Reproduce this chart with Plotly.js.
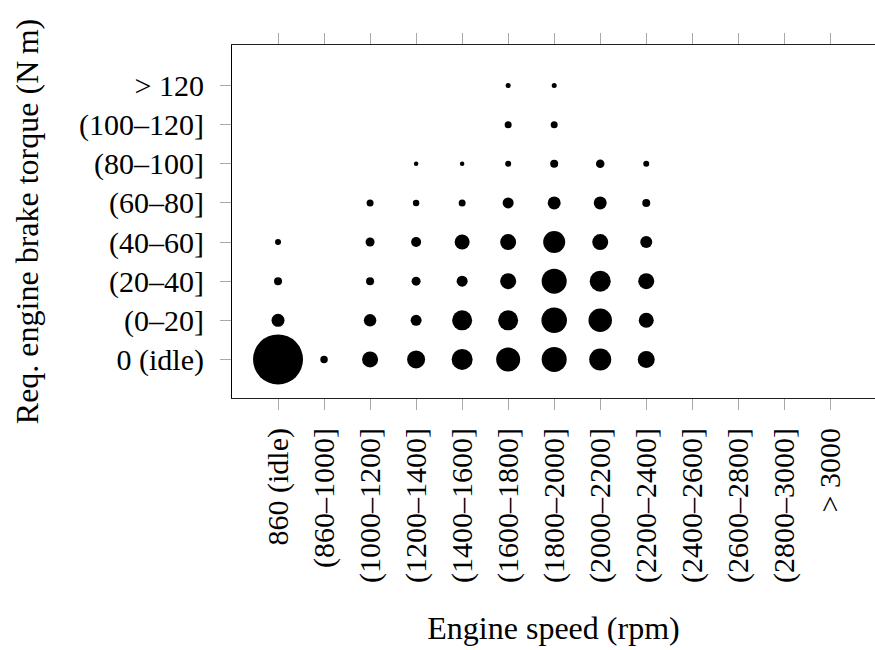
<!DOCTYPE html>
<html>
<head>
<meta charset="utf-8">
<script src="https://cdn.plot.ly/plotly-3.0.1.min.js"></script>
<style>html,body{margin:0;padding:0;background:#fff;}#chart{width:875px;height:650px;}</style>
</head>
<body>
<div id="chart"></div>
<script>
// Engine speed bins (x categories)
var speedBins = ['860 (idle)', '(860–1000]', '(1000–1200]', '(1200–1400]', '(1400–1600]',
  '(1600–1800]', '(1800–2000]', '(2000–2200]', '(2200–2400]', '(2400–2600]',
  '(2600–2800]', '(2800–3000]', '> 3000'];
// Torque bins (y categories, bottom to top)
var torqueBins = ['0 (idle)', '(0–20]', '(20–40]', '(40–60]', '(60–80]', '(80–100]', '(100–120]', '> 120'];

// Estimated relative frequency (area-proportional) per torque row, across speed bins
var rowIdle   = [25.0, 0.56, 2.56, 3.24, 4.41, 5.76, 6.25, 4.84, 2.89, null, null, null, null];
var row0_20   = [1.69, null, 1.56, 1.21, 4.00, 4.00, 6.50, 5.50, 2.25, null, null, null, null];
var row20_40  = [0.64, null, 0.64, 0.81, 1.21, 2.56, 6.25, 4.41, 2.56, null, null, null, null];
var row40_60  = [0.36, null, 0.81, 1.00, 2.25, 2.56, 4.84, 2.56, 1.44, null, null, null, null];
var row60_80  = [null, null, 0.49, 0.42, 0.49, 1.21, 1.69, 1.69, 0.64, null, null, null, null];
var row80_100 = [null, null, null, 0.20, 0.20, 0.36, 0.64, 0.72, 0.36, null, null, null, null];
var row100_120= [null, null, null, null, null, 0.49, 0.49, null, null, null, null, null, null];
var rowOver120= [null, null, null, null, null, 0.25, 0.25, null, null, null, null, null, null];

var rows = [rowIdle, row0_20, row20_40, row40_60, row60_80, row80_100, row100_120, rowOver120];

var xs = [], ys = [], vs = [];
rows.forEach(function(r, j) {
  r.forEach(function(v, i) {
    if (v !== null && v > 0) { xs.push(i); ys.push(j); vs.push(v); }
  });
});

var trace = {
  type: 'scatter',
  mode: 'markers',
  x: xs, y: ys,
  marker: {size: vs, sizemode: 'area', sizeref: 0.02, color: '#000', opacity: 1, line: {width: 0}},
  hoverinfo: 'skip'
};

var F = 'Liberation Serif';
var layout = {
  width: 875, height: 650,
  margin: {l: 232, r: 0, t: 45, b: 252},
  paper_bgcolor: '#fff', plot_bgcolor: '#fff',
  showlegend: false,
  font: {family: F, size: 30, color: '#000'},
  xaxis: {
    range: [-1, 12.97],
    tickmode: 'array',
    tickvals: speedBins.map(function(_, i){return i;}),
    ticktext: speedBins,
    tickangle: -90,
    ticks: 'outside', ticklen: 11, tickwidth: 1, tickcolor: '#a8a8a8',
    mirror: 'ticks',
    showline: true, linecolor: '#222', linewidth: 1,
    showgrid: false, zeroline: false,
    ticklabelstandoff: 6,
    tickfont: {family: F, size: 30, color: '#000'},
    title: {text: 'Engine speed (rpm)', font: {family: F, size: 32, color: '#000'}, standoff: 34}
  },
  yaxis: {
    range: [-0.985, 8.035],
    tickmode: 'array',
    tickvals: torqueBins.map(function(_, i){return i;}),
    ticktext: torqueBins,
    ticks: 'outside', ticklen: 11, tickwidth: 1, tickcolor: '#a8a8a8',
    mirror: 'ticks',
    showline: true, linecolor: '#000', linewidth: 1,
    showgrid: false, zeroline: false,
    ticklabelstandoff: 10,
    tickfont: {family: F, size: 30, color: '#000'},
    title: {text: 'Req. engine brake torque (N\u2009m)', font: {family: F, size: 32, color: '#000'}, standoff: 30}
  }
};

Plotly.newPlot('chart', [trace], layout, {staticPlot: true, displayModeBar: false});
</script>
</body>
</html>
